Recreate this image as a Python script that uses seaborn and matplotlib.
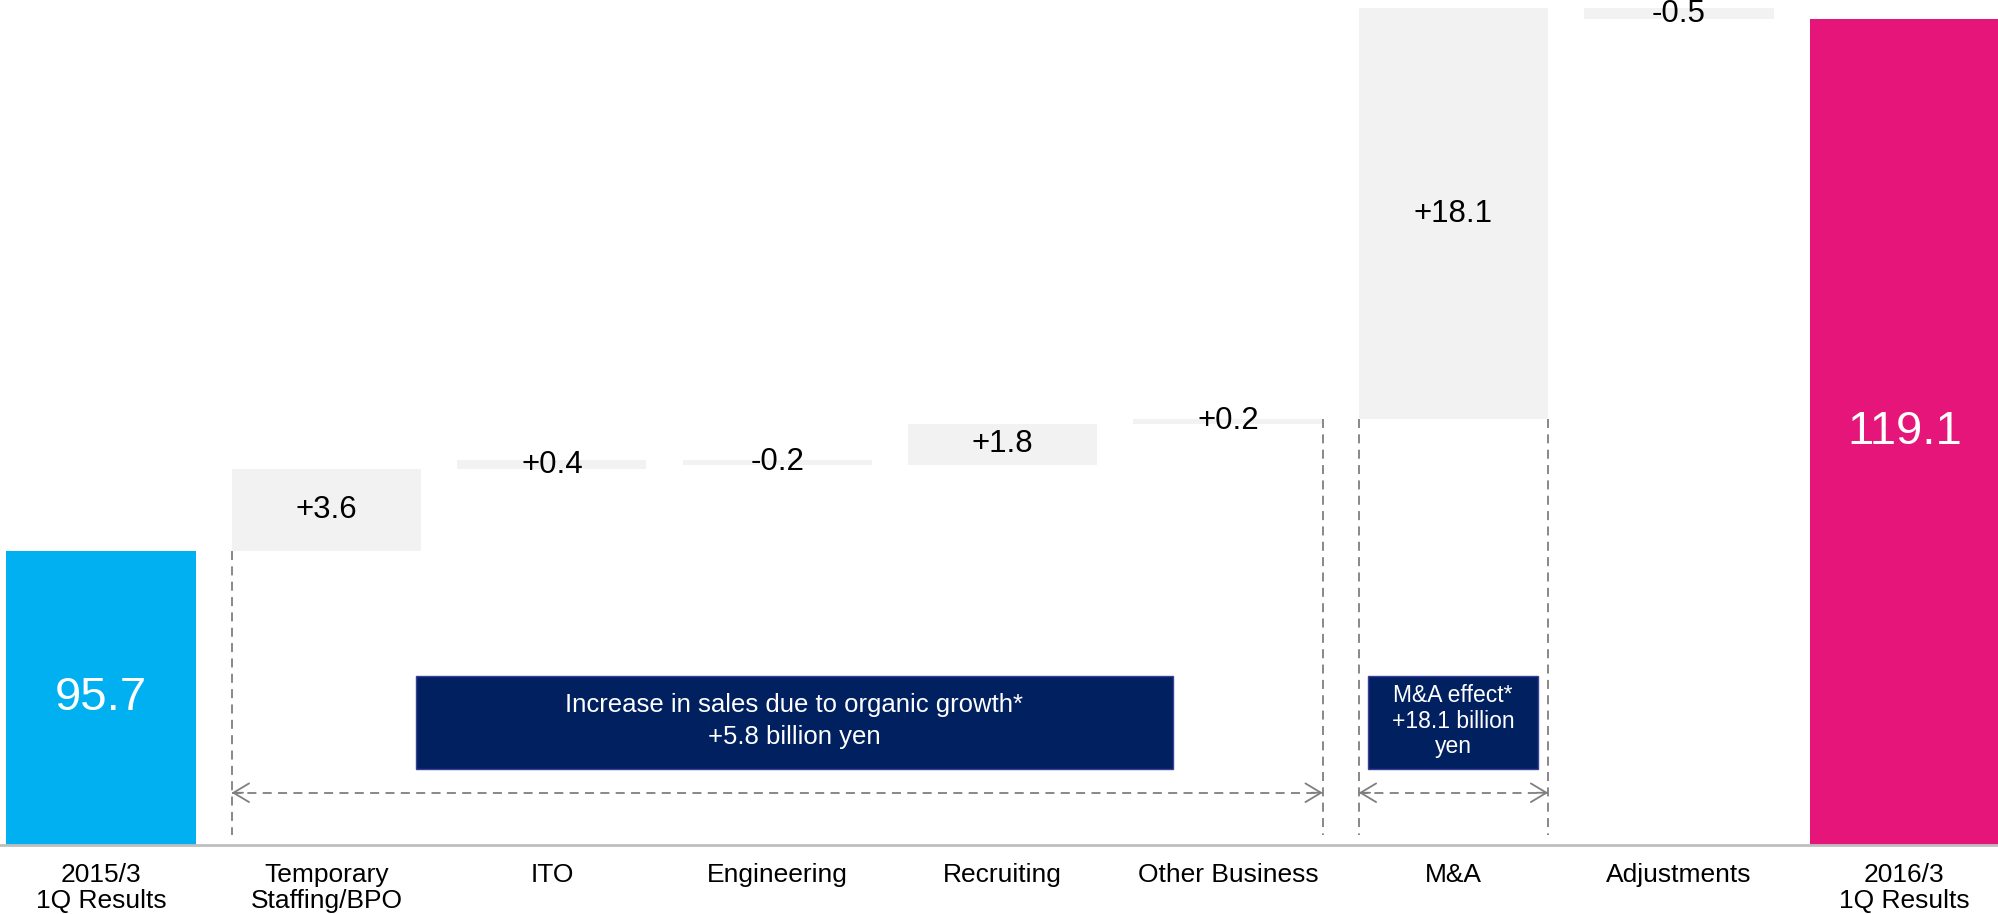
import matplotlib
matplotlib.use("Agg")
import matplotlib.pyplot as plt
import seaborn as sns
import pandas as pd
from matplotlib.patches import Rectangle

# ---- data -----------------------------------------------------------------
categories = [
    "2015/3\n1Q Results", "Temporary\nStaffing/BPO", "ITO", "Engineering",
    "Recruiting", "Other Business", "M&A", "Adjustments", "2016/3\n1Q Results",
]
values = [95.7, 3.6, 0.4, -0.2, 1.8, 0.2, 18.1, -0.5, 119.1]
kinds = ["total", "delta", "delta", "delta", "delta", "delta", "delta", "delta", "total_end"]

organic_note = "Increase in sales due to organic growth*\n+5.8 billion yen"
ma_note = "M&A effect*\n+18.1 billion\nyen"

# ---- styling --------------------------------------------------------------
kind_colors = {"total": "#00B0F0", "delta": "#F2F2F2", "total_end": "#E5157A"}
navy = "#002060"
dash_grey = "#7F7F7F"

sns.set_theme(style="white")
plt.rcParams["font.family"] = ["Liberation Sans", "DejaVu Sans"]

# ---- waterfall geometry ---------------------------------------------------
lows, highs = [], []
running = 0.0
for v, k in zip(values, kinds):
    if k.startswith("total"):
        lows.append(0.0)
        highs.append(v)
        running = v
    else:
        lows.append(min(running, running + v))
        highs.append(max(running, running + v))
        running += v

df = pd.DataFrame({
    "category": categories,
    "span": [h - l for h, l in zip(highs, lows)],
    "kind": kinds,
})
palette = {c: kind_colors[k] for c, k in zip(categories, kinds)}

fig = plt.figure(figsize=(19.99, 9.14), dpi=100)
ax = fig.add_axes([0.0, 0.0755, 1.0, 0.9245])

bw = 0.84
sns.barplot(data=df, x="category", y="span", hue="category", palette=palette,
            order=categories, hue_order=categories, width=bw, saturation=1,
            errorbar=None, legend=False, ax=ax, linewidth=0)

# lift each floating bar onto its running total
for patch in ax.patches:
    idx = int(round(patch.get_x() + patch.get_width() / 2))
    patch.set_y(lows[idx])

ax.set_xlim(-0.448, 8.42)
ax.set_ylim(82.75, 119.95)

# ---- value labels ---------------------------------------------------------
for i, (v, k) in enumerate(zip(values, kinds)):
    if k.startswith("total"):
        yc = (ax.get_ylim()[0] + highs[i]) / 2
        ax.text(i, yc, f"{v:.1f}", ha="center", va="center",
                fontsize=34, color="white")
    else:
        yc = (lows[i] + highs[i]) / 2
        ax.text(i, yc, f"{v:+.1f}", ha="center", va="center",
                fontsize=22.5, color="black")

# ---- dashed guides --------------------------------------------------------
guide_bottom = 83.2
guide_kw = dict(color=dash_grey, lw=1.3, ls=(0, (5, 3.5)), zorder=1)
ax.plot([1 - bw / 2, 1 - bw / 2], [lows[1], guide_bottom], **guide_kw)
ax.plot([5 + bw / 2, 5 + bw / 2], [highs[5], guide_bottom], **guide_kw)
ax.plot([6 - bw / 2, 6 - bw / 2], [lows[6], guide_bottom], **guide_kw)
ax.plot([6 + bw / 2, 6 + bw / 2], [lows[6], guide_bottom], **guide_kw)

arrow_y = 85.05
head = dict(arrowstyle="->,head_length=0.7,head_width=0.42", color=dash_grey,
            lw=1.3, shrinkA=0, shrinkB=0, mutation_scale=16)


def span_arrow(x0, x1):
    ax.plot([x0, x1], [arrow_y, arrow_y], **guide_kw)
    ax.annotate("", xy=(x0, arrow_y), xytext=(x0 + 0.05, arrow_y), arrowprops=head)
    ax.annotate("", xy=(x1, arrow_y), xytext=(x1 - 0.05, arrow_y), arrowprops=head)


span_arrow(1 - bw / 2, 5 + bw / 2)
span_arrow(6 - bw / 2, 6 + bw / 2)

# ---- note boxes -----------------------------------------------------------
box_y0, box_y1 = 86.1, 90.2
ax.add_patch(Rectangle((1.397, box_y0), 4.754 - 1.397, box_y1 - box_y0,
                       facecolor=navy, edgecolor="#3A3F9A", lw=1, zorder=2))
ax.text((1.397 + 4.754) / 2, (box_y0 + box_y1) / 2 + 0.05, organic_note, ha="center",
        va="center", color="white", fontsize=18.5, linespacing=1.4, zorder=3)

ax.add_patch(Rectangle((5.619, box_y0), 6.377 - 5.619, box_y1 - box_y0,
                       facecolor=navy, edgecolor="#3A3F9A", lw=1, zorder=2))
ax.text((5.619 + 6.377) / 2, (box_y0 + box_y1) / 2 + 0.05, ma_note, ha="center",
        va="center", color="white", fontsize=16.5, linespacing=1.15, zorder=3)

# ---- axes cosmetics -------------------------------------------------------
for side in ("top", "left", "right"):
    ax.spines[side].set_visible(False)
ax.spines["bottom"].set_color("#BFBFBF")
ax.spines["bottom"].set_linewidth(2)
ax.set_yticks([])
ax.set_xlabel("")
ax.set_ylabel("")
ax.set_xticks(range(len(categories)))
ax.set_xticklabels(categories, fontsize=19, color="black", linespacing=1.1)
ax.tick_params(axis="x", length=0, pad=13)

fig.savefig("out.png", dpi=100)
